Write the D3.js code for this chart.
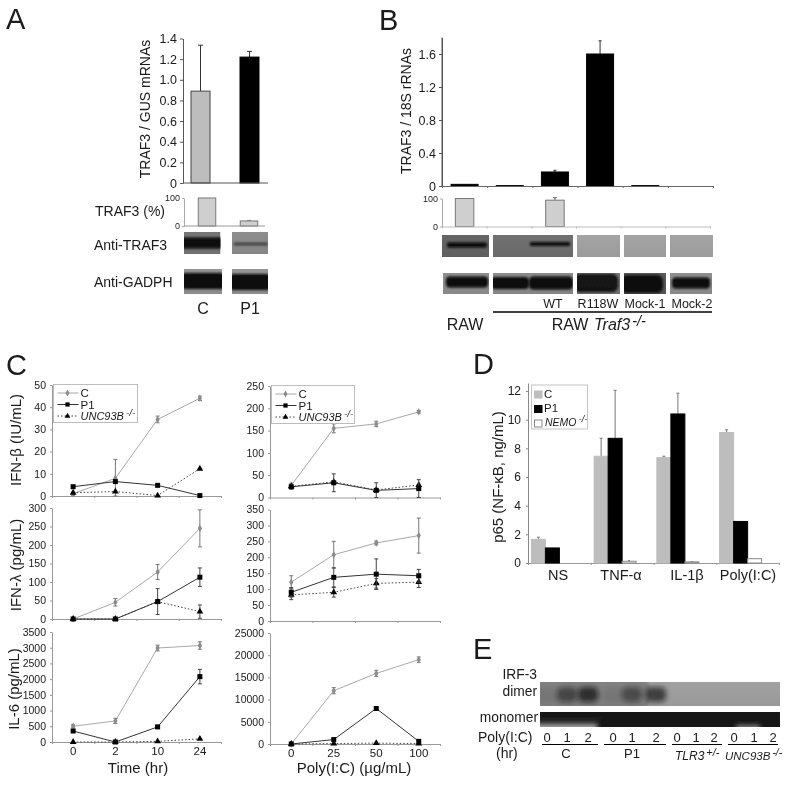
<!DOCTYPE html>
<html>
<head>
<meta charset="utf-8">
<script src="https://cdn.jsdelivr.net/npm/d3@7"></script>
<style>
html, body { margin: 0; padding: 0; background: #fff; }
svg { display: block; }
text { font-family: "Liberation Sans", Arial, sans-serif; fill: #1a1a1a; }
</style>
</head>
<body>
<svg id="fig" width="800" height="785"></svg>
<script>
// panel A
const aCats = ["C", "P1"];
const aMrna = [0.89, 1.22];
const aMrnaTop = [1.335, 1.275];
const aMrnaTicks = [0, 0.2, 0.4, 0.6, 0.8, 1.0, 1.2, 1.4];
const aProtein = [100, 18];
const aProteinTop = [100, 20];

// panel B
const bCats = ["RAW", "KO", "WT", "R118W", "Mock-1", "Mock-2"];
const bRna = [0.02, 0.005, 0.17, 1.6, 0.005, 0];
const bRnaTop = [0.02, 0.005, 0.19, 1.76, 0.005, 0];
const bRnaTicks = [0, 0.4, 0.8, 1.2, 1.6];
const bProtein = [100, 0, 94, 0, 0, 0];
const bProteinTop = [100, 0, 103, 0, 0, 0];

// panel C
const timeCats = ["0", "2", "10", "24"];
const doseCats = ["0", "25", "50", "100"];
const ifnbTime = {
  c: [1, 8, 34.5, 44], cErr: [0.8, 8.5, 1.5, 1],
  p1: [4.2, 6.5, 4.8, 0.2], p1Err: [0, 0, 0, 0],
  unc: [1.5, 2, 0.2, 12.3], uncErr: [0, 0, 0, 0]
};
const ifnlTime = {
  c: [0, 45, 127, 245], cErr: [0, 10, 20, 50],
  p1: [0, 0, 47, 113], p1Err: [0, 0, 35, 25],
  unc: [0, 0, 47, 20], uncErr: [0, 0, 0, 18]
};
const il6Time = {
  c: [500, 670, 2990, 3070], cErr: [50, 80, 90, 120],
  p1: [350, 0, 480, 2080], p1Err: [40, 0, 50, 230],
  unc: [0, 0, 20, 100], uncErr: [0, 0, 0, 0]
};
const ifnbDose = {
  c: [27, 155, 165, 192], cErr: [5, 10, 6, 3],
  p1: [24, 33, 16, 20], p1Err: [5, 20, 17, 20],
  unc: [25, 35, 17, 28], uncErr: [0, 0, 0, 0]
};
const ifnlDose = {
  c: [122, 208, 245, 268], cErr: [20, 42, 6, 55],
  p1: [90, 137, 147, 142], p1Err: [15, 30, 48, 20],
  unc: [82, 90, 118, 122], uncErr: [15, 15, 15, 17]
};
const il6Dose = {
  c: [0, 12000, 15900, 19000], cErr: [0, 700, 700, 600],
  p1: [0, 1000, 8000, 600], p1Err: [0, 0, 200, 0],
  unc: [0, 100, 200, 100], uncErr: [0, 0, 0, 0]
};

// panel D
const dCats = ["NS", "TNF-α", "IL-1β", "Poly(I:C)"];
const dC = [1.65, 7.45, 7.35, 9.1];
const dCTop = [1.8, 8.7, 7.45, 9.3];
const dP1 = [1.05, 8.7, 10.4, 2.9];
const dP1Top = [1.05, 12.05, 11.85, 2.9];
const dNemo = [0, 0.12, 0.08, 0.3];
const dNemoTop = [0, 0.17, 0.1, 0.3];
const dTicks = [0, 2, 4, 6, 8, 10, 12];

// panel E
const eLanes = ["0", "1", "2", "0", "1", "2", "0", "1", "2", "0", "1", "2"];
const eDimer = [0.08, 0.5, 0.7, 0.08, 0.45, 0.65, 0, 0, 0, 0, 0, 0];

const svg = d3.select("#fig");
const defs = svg.append("defs");
defs.append("filter").attr("id", "soft").attr("x", "-5%").attr("y", "-5%").attr("width", "110%").attr("height", "110%")
  .append("feGaussianBlur").attr("stdDeviation", 0.35);
defs.append("filter").attr("id", "smear").attr("x", "-30%").attr("y", "-80%").attr("width", "160%").attr("height", "260%")
  .append("feGaussianBlur").attr("stdDeviation", 1.2);
defs.append("filter").attr("id", "wide").attr("x", "-40%").attr("y", "-80%").attr("width", "180%").attr("height", "260%")
  .append("feGaussianBlur").attr("stdDeviation", 2.4);

const root = svg.append("g").attr("filter", "url(#soft)");

function panelLetter(label, x, y) {
  root.append("text").attr("x", x).attr("y", y).attr("font-size", 29).text(label);
}

function label(text, x, y, size, anchor = "middle") {
  return root.append("text").attr("x", x).attr("y", y).attr("font-size", size)
    .attr("text-anchor", anchor).text(text);
}

function rotLabel(text, x, y, size) {
  return root.append("text").attr("transform", `translate(${x},${y}) rotate(-90)`)
    .attr("font-size", size).attr("text-anchor", "middle").text(text);
}

// italic name with a raised genotype
function geneLabel(name, sup, x, y, size, anchor = "start") {
  const t = root.append("text").attr("x", x).attr("y", y).attr("font-size", size).attr("text-anchor", anchor);
  t.append("tspan").attr("font-style", "italic").text(name);
  t.append("tspan").attr("font-style", "italic").attr("dy", -4).attr("dx", 2).attr("font-size", size * 0.9).text(sup);
  return t;
}

function styleAxis(g, color, size) {
  g.selectAll("path, line").attr("stroke", color);
  g.selectAll("text").attr("font-size", size).style("font-family", '"Liberation Sans", Arial, sans-serif').attr("fill", "#1a1a1a");
}

function yAxis(scale, x, ticks, size, color = "#555", fmt = null, tickLen = 3, pad = 3) {
  const ax = d3.axisLeft(scale).tickValues(ticks).tickSize(tickLen).tickSizeOuter(0).tickPadding(pad);
  ax.tickFormat(fmt || d3.format("d"));
  const g = root.append("g").attr("transform", `translate(${x},0)`).call(ax);
  styleAxis(g, color, size);
  return g;
}

// excel style x axis: ticks sit on category boundaries
function xBoundaryAxis(x0, x1, n, y, color = "#777") {
  const scale = d3.scaleLinear().domain([0, n]).range([x0, x1]);
  const ax = d3.axisBottom(scale).tickValues(d3.range(0, n + 1)).tickSize(2).tickSizeOuter(0).tickFormat("");
  const g = root.append("g").attr("transform", `translate(0,${y})`).call(ax);
  styleAxis(g, color, 10);
  return g;
}

function xLabels(scale, y, size, pad) {
  const ax = d3.axisBottom(scale).tickSize(0).tickPadding(pad);
  const g = root.append("g").attr("transform", `translate(0,${y})`).call(ax);
  g.select(".domain").remove();
  g.selectAll("text").attr("font-size", size).attr("fill", "#1a1a1a").style("font-family", '"Liberation Sans", Arial, sans-serif');
  return g;
}

function bars(cats, vals, x, y, width, fill, stroke) {
  root.append("g").selectAll("rect").data(cats.map((c, i) => ({ c, v: vals[i] })).filter(d => d.v > 0)).enter().append("rect")
    .attr("x", d => x(d.c) - width / 2)
    .attr("y", d => y(d.v))
    .attr("width", width)
    .attr("height", d => y(0) - y(d.v))
    .attr("fill", fill)
    .attr("stroke", stroke)
    .attr("stroke-width", 1);
}

function upperErrors(cats, vals, tops, x, y, capW, color) {
  const rows = cats.map((c, i) => ({ c, v: vals[i], t: tops[i] })).filter(d => d.t > d.v);
  const g = root.append("g").attr("stroke", color).attr("stroke-width", 1);
  g.selectAll(".stem").data(rows).enter().append("line")
    .attr("x1", d => x(d.c)).attr("x2", d => x(d.c)).attr("y1", d => y(d.v)).attr("y2", d => y(d.t));
  g.selectAll(".cap").data(rows).enter().append("line")
    .attr("x1", d => x(d.c) - capW).attr("x2", d => x(d.c) + capW).attr("y1", d => y(d.t)).attr("y2", d => y(d.t));
}

// one gel strip: grey ground plus smeared dark bands
function blot(x, y, w, h, ground, bands = []) {
  const gradId = "g" + Math.round(x) + "_" + Math.round(y);
  const grad = defs.append("linearGradient").attr("id", gradId).attr("x1", 0).attr("x2", 0).attr("y1", 0).attr("y2", 1);
  grad.append("stop").attr("offset", 0).attr("stop-color", d3.color(ground).brighter(0.15));
  grad.append("stop").attr("offset", 1).attr("stop-color", d3.color(ground));
  const clipId = "c" + gradId;
  defs.append("clipPath").attr("id", clipId).append("rect").attr("x", x).attr("y", y).attr("width", w).attr("height", h);
  const g = root.append("g").attr("clip-path", `url(#${clipId})`);
  g.append("rect").attr("x", x).attr("y", y).attr("width", w).attr("height", h).attr("fill", `url(#${gradId})`);
  bands.forEach(b => {
    g.append("rect").attr("x", x + b[0]).attr("y", y + b[1] - b[3] / 2).attr("width", b[2]).attr("height", b[3])
      .attr("rx", b[3] / 3).attr("fill", b[5] || "#0a0a0a").attr("opacity", b[4]).attr("filter", "url(#smear)");
  });
  return g;
}

/* ---------- A ---------- */
panelLetter("A", 6, 29);
{
  const x = d3.scalePoint().domain(aCats).range([200.5, 249.5]);
  const y = d3.scaleLinear().domain([0, 1.4]).range([183, 38.5]);
  upperErrors(aCats, aMrna, aMrnaTop, x, y, 2.5, "#333");
  bars(aCats.slice(0, 1), aMrna.slice(0, 1), x, y, 19, "#bdbdbd", "#444");
  bars(aCats.slice(1), aMrna.slice(1), x, y, 19, "#000", "#000");
  yAxis(y, 183, aMrnaTicks, 12.5, "#555", d => d === 0 ? "0" : d3.format(".1f")(d));
  root.append("line").attr("x1", 183).attr("x2", 268).attr("y1", 183).attr("y2", 183).attr("stroke", "#555");
  rotLabel("TRAF3 / GUS mRNAs", 150, 109, 14);

  const xp = d3.scalePoint().domain(aCats).range([207, 249]);
  const yp = d3.scaleLinear().domain([0, 100]).range([226, 198]);
  upperErrors(aCats, aProtein, aProteinTop, xp, yp, 2, "#888");
  bars(aCats, aProtein, xp, yp, 17.5, "#cfcfcf", "#777");
  yAxis(yp, 184, [0, 100], 9, "#aaa", null, 2, 2);
  root.append("line").attr("x1", 184).attr("x2", 265).attr("y1", 226).attr("y2", 226).attr("stroke", "#999");
  label("TRAF3 (%)", 95, 216, 14, "start");
  label("Anti-TRAF3", 94, 250, 14, "start");
  label("Anti-GADPH", 94, 287, 14, "start");

  blot(184, 232, 36.5, 22, "#6f6f6f", [[-4, 11, 44, 11, 1]]);
  blot(232, 232, 36, 22, "#868686", [[2, 12, 34, 2.5, 0.65]]);
  blot(184, 269, 38, 25, "#8c8c8c", [[-4, 12, 46, 16, 1]]);
  blot(232, 269, 36, 25, "#8c8c8c", [[-4, 13, 44, 16, 1]]);
  label("C", 203, 314, 16);
  label("P1", 250, 314, 16);
}

/* ---------- B ---------- */
panelLetter("B", 379, 30);
{
  const x = d3.scaleBand().domain(bCats).range([442, 713]);
  const cx = d3.scalePoint().domain(bCats).range([x("RAW") + x.bandwidth() / 2, x("Mock-2") + x.bandwidth() / 2]);
  const y = d3.scaleLinear().domain([0, 1.8]).range([186, 37.5]);
  upperErrors(bCats, bRna, bRnaTop, cx, y, 1.5, "#333");
  bars(bCats, bRna, cx, y, 27, "#000", "#000");
  yAxis(y, 442, bRnaTicks, 12.5, "#555", d => d === 0 ? "0" : d3.format(".1f")(d));
  xBoundaryAxis(442, 713, 6, 186, "#666");
  root.append("line").attr("x1", 442).attr("x2", 442).attr("y1", 37.5).attr("y2", 186).attr("stroke", "#555");
  rotLabel("TRAF3 / 18S rRNAs", 411, 111, 14);

  const yp = d3.scaleLinear().domain([0, 100]).range([226.5, 198.5]);
  upperErrors(bCats, bProtein, bProteinTop, cx, yp, 2, "#666");
  bars(bCats, bProtein, cx, yp, 18.5, "#cfcfcf", "#777");
  yAxis(yp, 442, [0, 100], 9, "#aaa", null, 2, 2);
  xBoundaryAxis(442, 710, 6, 226.5, "#bbb");

  const top = 235, bot = 273;
  blot(442, top, 47, 22, "#606060", [[5, 10, 40, 5, 1]]);
  blot(493, top, 80, 22, "#6a6a6a", [[37, 9, 40, 4, 1]]);
  blot(577, top, 43, 22, "#9b9b9b");
  blot(624, top, 42, 22, "#9b9b9b");
  blot(670, top, 43, 22, "#9b9b9b");
  blot(443, bot, 46, 21, "#888888", [[3, 9, 42, 11, 1]]);
  blot(493, bot, 80, 21, "#858585", [[-2, 10, 38, 12, 1], [36, 10, 44, 13, 1]]);
  blot(577, bot, 43, 21, "#6e6e6e", [[-3, 10, 44, 18, 0.95]]);
  blot(624, bot, 42, 21, "#555555", [[-3, 11, 42, 18, 0.95]]);
  blot(670, bot, 42, 21, "#888888", [[2, 10, 38, 11, 1]]);

  label("WT", 553, 308, 12.5);
  label("R118W", 598, 308, 12.5);
  label("Mock-1", 645, 308, 12.5);
  label("Mock-2", 692, 308, 12.5);
  root.append("line").attr("x1", 493).attr("x2", 712).attr("y1", 312).attr("y2", 312).attr("stroke", "#000").attr("stroke-width", 1.5);
  label("RAW", 465, 330, 16);
  label("RAW", 570, 330, 16);
  geneLabel("Traf3", "-/-", 594, 330, 16);
}

/* ---------- C ---------- */
panelLetter("C", 6, 375);

function linePanel(cats, series, xRange, yRange, domain, ticks, showLabels) {
  const x = d3.scaleBand().domain(cats).range(xRange);
  const cx = c => x(c) + x.bandwidth() / 2;
  const y = d3.scaleLinear().domain(domain).range(yRange);
  const specs = [
    { key: "c", err: "cErr", stroke: "#a8a8a8", dash: null, errColor: "#777", sym: d3.symbolDiamond, size: 16, fill: "#8c8c8c" },
    { key: "unc", err: "uncErr", stroke: "#444", dash: "1.5,2", errColor: "#444", sym: d3.symbolTriangle, size: 20, fill: "#000" },
    { key: "p1", err: "p1Err", stroke: "#333", dash: null, errColor: "#444", sym: d3.symbolSquare, size: 25, fill: "#000" }
  ];
  yAxis(y, xRange[0], ticks, 10.5, "#999", null, 2, 4);
  xBoundaryAxis(xRange[0], xRange[1], cats.length, yRange[0], "#999");
  specs.forEach(s => {
    const rows = cats.map((c, i) => ({ c, v: series[s.key][i], e: series[s.err][i] }));
    const line = d3.line().x(d => cx(d.c)).y(d => y(d.v));
    const g = root.append("g");
    g.append("path").datum(rows).attr("d", line).attr("fill", "none").attr("stroke", s.stroke).attr("stroke-width", 1)
      .attr("stroke-dasharray", s.dash);
    const withErr = rows.filter(d => d.e > 0);
    const low = d => y(Math.max(d.v - d.e, domain[0]));
    const eg = g.append("g").attr("stroke", s.errColor).attr("stroke-width", 1);
    eg.selectAll(".stem").data(withErr).enter().append("line")
      .attr("x1", d => cx(d.c)).attr("x2", d => cx(d.c)).attr("y1", low).attr("y2", d => y(d.v + d.e));
    eg.selectAll(".hi").data(withErr).enter().append("line")
      .attr("x1", d => cx(d.c) - 2).attr("x2", d => cx(d.c) + 2).attr("y1", d => y(d.v + d.e)).attr("y2", d => y(d.v + d.e));
    eg.selectAll(".lo").data(withErr).enter().append("line")
      .attr("x1", d => cx(d.c) - 2).attr("x2", d => cx(d.c) + 2).attr("y1", low).attr("y2", low);
    g.selectAll(".pt").data(rows).enter().append("path")
      .attr("transform", d => `translate(${cx(d.c)},${y(d.v)})`)
      .attr("d", d3.symbol().type(s.sym).size(s.size)())
      .attr("fill", s.fill);
  });
  if (showLabels) xLabels(x, yRange[0], 11.5, 5);
}

function lineLegend(x, y, w, h) {
  const g = root.append("g");
  g.append("rect").attr("x", x).attr("y", y).attr("width", w).attr("height", h).attr("fill", "#fff").attr("stroke", "#bdbdbd");
  const items = [
    { t: "C", stroke: "#a8a8a8", dash: null, sym: d3.symbolDiamond, size: 14, fill: "#8c8c8c" },
    { t: "P1", stroke: "#333", dash: null, sym: d3.symbolSquare, size: 18, fill: "#000" },
    { t: "unc", stroke: "#444", dash: "1.5,2", sym: d3.symbolTriangle, size: 14, fill: "#000" }
  ];
  items.forEach((it, i) => {
    const yy = y + 8.5 + i * 11.5;
    g.append("line").attr("x1", x + 4).attr("x2", x + 25).attr("y1", yy).attr("y2", yy)
      .attr("stroke", it.stroke).attr("stroke-dasharray", it.dash);
    g.append("path").attr("transform", `translate(${x + 14},${yy})`).attr("d", d3.symbol().type(it.sym).size(it.size)()).attr("fill", it.fill);
    if (it.t === "unc") geneLabel("UNC93B", "-/-", x + 27, yy + 4, 11);
    else label(it.t, x + 27, yy + 4, 11.5, "start");
  });
}

linePanel(timeCats, ifnbTime, [52, 221], [496, 385], [0, 50], [0, 10, 20, 30, 40, 50], false);
linePanel(timeCats, ifnlTime, [52, 221], [619, 508], [0, 300], [0, 50, 100, 150, 200, 250, 300], false);
linePanel(timeCats, il6Time, [52, 221], [742, 632], [0, 3500], [0, 500, 1000, 1500, 2000, 2500, 3000, 3500], true);
linePanel(doseCats, ifnbDose, [270, 440], [497.5, 386], [0, 250], [0, 50, 100, 150, 200, 250], false);
linePanel(doseCats, ifnlDose, [270, 440], [621, 509.5], [0, 350], [0, 50, 100, 150, 200, 250, 300, 350], false);
linePanel(doseCats, il6Dose, [270, 440], [744, 633], [0, 25000], [0, 5000, 10000, 15000, 20000, 25000], true);
lineLegend(53.5, 384.5, 84, 38);
lineLegend(271.5, 385.5, 83, 38);
rotLabel("IFN-β (IU/mL)", 21, 440, 15);
rotLabel("IFN-λ (pg/mL)", 21, 565, 15);
rotLabel("IL-6 (pg/mL)", 19, 689, 15);
label("Time (hr)", 138, 773, 15);
label("Poly(I:C) (µg/mL)", 354, 773, 15);

/* ---------- D ---------- */
panelLetter("D", 473, 374);
{
  const x = d3.scaleBand().domain(dCats).range([521, 772]);
  const y = d3.scaleLinear().domain([0, 12.56]).range([563, 383]);
  const gc = c => x(c) + x.bandwidth() / 2;
  const barW = 14;
  const sx = off => c => gc(c) + off * barW;
  yAxis(y, 528, dTicks, 12, "#888", null, 2, 5);
  xBoundaryAxis(528, 779, 4, 563, "#999");
  upperErrors(dCats, dC, dCTop, sx(-1), y, 1.5, "#777");
  upperErrors(dCats, dP1, dP1Top, sx(0), y, 1.5, "#777");
  upperErrors(dCats, dNemo, dNemoTop, sx(1), y, 1, "#777");
  bars(dCats, dC, sx(-1), y, barW, "#bdbdbd", "#bdbdbd");
  bars(dCats, dP1, sx(0), y, barW, "#000", "#000");
  bars(dCats, dNemo, sx(1), y, barW, "#fff", "#888");
  rotLabel("p65 (NF-κB, ng/mL)", 503, 477, 15);
  label("NS", 558, 580, 14.5);
  label("TNF-α", 621, 580, 14.5);
  label("IL-1β", 687, 580, 14.5);
  label("Poly(I:C)", 748, 580, 14.5);

  const g = root.append("g");
  g.append("rect").attr("x", 531.5).attr("y", 385).attr("width", 56).attr("height", 44).attr("fill", "#fff").attr("stroke", "#c4c4c4");
  [["#bdbdbd", "#bdbdbd"], ["#000", "#000"], ["#fff", "#888"]].forEach((c, i) => {
    g.append("rect").attr("x", 534.5).attr("y", 391 + i * 14.5).attr("width", 7.5).attr("height", 7)
      .attr("fill", c[0]).attr("stroke", c[1]);
  });
  label("C", 544, 398, 11.5, "start");
  label("P1", 544, 412, 11.5, "start");
  geneLabel("NEMO", "-/-", 545, 426, 10.5);
}

/* ---------- E ---------- */
panelLetter("E", 473, 659);
{
  const laneX = d3.scaleOrdinal().domain(d3.range(eLanes.length))
    .range([547, 567, 588, 613, 632, 656, 677, 696, 714, 734, 754, 773]);
  const dimer = blot(540, 682, 240, 24, "#999999", [[-10, 12, 120, 30, 0.2]]);
  eDimer.forEach((v, i) => {
    if (v > 0) {
      dimer.append("rect").attr("x", laneX(i) - 10).attr("y", 687).attr("width", 20).attr("height", 15)
        .attr("rx", 5).attr("fill", "#111").attr("opacity", v).attr("filter", "url(#wide)");
    }
  });
  const mono = blot(540, 712, 240, 15, "#1e1e1e", [[0, 2, 240, 4, 0.7], [60, 11, 180, 9, 0.7]]);
  mono.append("rect").attr("x", 535).attr("y", 724).attr("width", 62).attr("height", 8).attr("fill", "#aaaaaa").attr("filter", "url(#wide)");
  mono.append("rect").attr("x", 736).attr("y", 725).attr("width", 24).attr("height", 6).attr("fill", "#888888").attr("filter", "url(#wide)");

  label("IRF-3", 537, 679, 13.8, "end");
  label("dimer", 537, 696, 13.8, "end");
  label("monomer", 538, 722, 13.8, "end");
  label("Poly(I:C)", 478, 742, 14, "start");
  label("(hr)", 496, 758, 14, "start");
  eLanes.forEach((t, i) => label(t, laneX(i), 742, 13));
  [[542, 598], [604, 666], [672, 722], [728, 778]].forEach(s => {
    root.append("line").attr("x1", s[0]).attr("x2", s[1]).attr("y1", 744.5).attr("y2", 744.5).attr("stroke", "#000");
  });
  label("C", 566, 758, 13);
  label("P1", 632, 758, 13);
  geneLabel("TLR3", "+/-", 675, 760, 12);
  geneLabel("UNC93B", "-/-", 725, 760, 11.5);
}
</script>
</body>
</html>
